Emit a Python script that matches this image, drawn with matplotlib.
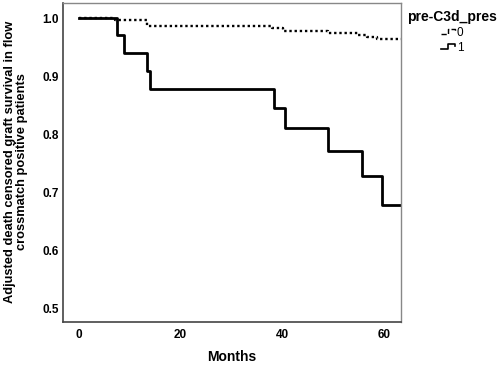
import matplotlib
matplotlib.use('Agg')
import matplotlib.pyplot as plt
from matplotlib.legend_handler import HandlerBase
from matplotlib.lines import Line2D

plt.rcParams['font.family'] = ['Liberation Sans', 'DejaVu Sans']

# survival curves (months, survival)
months_0 = [0, 7.1, 13.4, 38.0, 40.2, 49.0, 54.9, 56.7, 58.7, 63.4]
surv_0 = [1.0, 0.997, 0.987, 0.982, 0.978, 0.974, 0.971, 0.968, 0.963, 0.963]

months_1 = [0, 7.5, 8.9, 13.4, 14.1, 38.4, 40.6, 49.0, 55.7, 59.6, 63.4]
surv_1 = [1.0, 0.970, 0.939, 0.909, 0.878, 0.845, 0.810, 0.770, 0.727, 0.678, 0.678]

x_ticks = [0, 20, 40, 60]
y_ticks = [0.5, 0.6, 0.7, 0.8, 0.9, 1.0]


# small step-shaped legend sample, like the SPSS output
class StepHandler(HandlerBase):
    def create_artists(self, legend, orig_handle, xdescent, ydescent,
                       width, height, fontsize, trans):
        x0 = -xdescent
        y0 = -ydescent
        xs = [x0, x0 + 0.45 * width, x0 + 0.45 * width, x0 + 0.9 * width, x0 + 0.9 * width]
        ys = [y0 + 0.2 * height, y0 + 0.2 * height, y0 + 0.85 * height,
              y0 + 0.85 * height, y0 + 0.55 * height]
        ln = Line2D(xs, ys, color='black', linewidth=orig_handle.get_linewidth() * 0.6,
                    linestyle=orig_handle.get_linestyle())
        ln.set_transform(trans)
        return [ln]


fig = plt.figure(figsize=(5, 3.65), dpi=100)
ax = fig.add_axes([0.126, 0.118, 0.676, 0.874])

l0, = ax.plot(months_0, surv_0, drawstyle='steps-post', color='black',
              linewidth=1.7, linestyle=(0, (1, 1.2)), label='0')
l1, = ax.plot(months_1, surv_1, drawstyle='steps-post', color='black',
              linewidth=2.0, label='1')

ax.set_xlim(-3.1, 63.4)
ax.set_ylim(0.476, 1.026)
ax.set_xticks(x_ticks)
ax.set_yticks(y_ticks)
ax.set_yticklabels(['%.1f' % v for v in y_ticks])
ax.tick_params(length=0, labelsize=8.5)
ax.tick_params(axis='y', pad=3)
ax.tick_params(axis='x', pad=5)
for lab in ax.get_xticklabels() + ax.get_yticklabels():
    lab.set_fontweight('bold')

for side in ['left', 'bottom']:
    ax.spines[side].set_color('#444444')
    ax.spines[side].set_linewidth(1.2)
for side in ['top', 'right']:
    ax.spines[side].set_color('#888888')
    ax.spines[side].set_linewidth(1.0)

fig.text(232 / 500, 1 - 357 / 365, 'Months', fontsize=10, fontweight='bold',
         ha='center', va='center')
fig.text(16 / 500, 1 - 162 / 365,
         'Adjusted death censored graft survival in flow\ncrossmatch positive patients',
         fontsize=9.3, fontweight='bold', rotation=90, ha='center', va='center',
         multialignment='center', linespacing=0.95)

leg = fig.legend(handles=[l0, l1], loc='upper left', bbox_to_anchor=(0.805, 0.985),
                 frameon=False, title='pre-C3d_pres', fontsize=8.5, handlelength=1.3,
                 handletextpad=0.05, labelspacing=0.25, borderaxespad=0,
                 handler_map={Line2D: StepHandler()})
leg.get_title().set_fontweight('bold')
leg.get_title().set_fontsize(10)
leg._legend_box.sep = 2

fig.savefig('out.png', dpi=100)
